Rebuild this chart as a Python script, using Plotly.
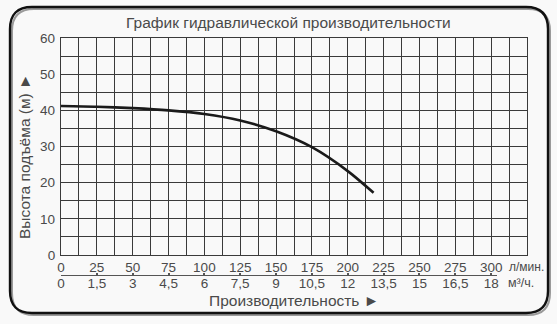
import plotly.graph_objects as go

# Data
flow_lpm = [0, 25, 50, 75, 100, 125, 150, 175, 200, 218]
head_m = [41.2, 41.0, 40.6, 40.0, 39.0, 37.2, 34.2, 29.8, 23.2, 17.2]

x_tick_vals = [0, 25, 50, 75, 100, 125, 150, 175, 200, 225, 250, 275, 300]
x2_tick_vals = [0, 1.5, 3, 4.5, 6, 7.5, 9, 10.5, 12, 13.5, 15, 16.5, 18]
x2_tick_text = ["0", "1,5", "3", "4,5", "6", "7,5", "9", "10,5", "12", "13,5", "15", "16,5", "18"]
y_tick_vals = [0, 10, 20, 30, 40, 50, 60]

W, H = 557, 324
L, R, T, B = 61, 30, 38, 34
PW = W - L - R
PH = H - T - B
def px(x):
    return (x - L) / PW
def py(y):
    return (H - B - y) / PH

FONT = "Liberation Sans, Arial, sans-serif"
TXT = "#4a4a4a"
GRID = "#3a3a3a"
BG = "#f9f9f9"
TF = 13.5

fig = go.Figure()
fig.add_trace(go.Scatter(x=flow_lpm, y=head_m, mode="lines",
                         line=dict(color="#1a1a1a", width=2.6, shape="spline", smoothing=0.8),
                         hoverinfo="skip", showlegend=False))
# invisible trace carrying the second (m3/h) x axis
fig.add_trace(go.Scatter(x=[0], y=[0], xaxis="x2", yaxis="y2", mode="markers",
                         marker=dict(opacity=0), showlegend=False, hoverinfo="skip"))

grid_bottom = 255
line2_y = 275
m3_per_lpm = 0.06
x2_end_px = 497
x2_dom = (x2_end_px - L) / PW

fig.update_layout(
    width=W, height=H,
    margin=dict(l=L, r=R, t=T, b=B),
    paper_bgcolor=BG,
    plot_bgcolor=BG,
    font=dict(family=FONT, size=TF, color=TXT),
    showlegend=False,
    xaxis=dict(range=[0, 325], tickvals=x_tick_vals, ticktext=[str(v) for v in x_tick_vals],
               showgrid=True, gridcolor=GRID, gridwidth=1.3,
               minor=dict(dtick=12.5, tick0=0, showgrid=True, gridcolor=GRID, gridwidth=1.3),
               showline=True, linecolor=GRID, linewidth=1.3, mirror=True,
               ticks="", zeroline=False, anchor="y", tickfont=dict(size=TF, color=TXT)),
    yaxis=dict(range=[0, 60], tickvals=y_tick_vals, domain=[py(grid_bottom), 1],
               showgrid=True, gridcolor=GRID, gridwidth=1.3,
               minor=dict(dtick=5, tick0=0, showgrid=True, gridcolor=GRID, gridwidth=1.3),
               showline=True, linecolor=GRID, linewidth=1.3, mirror=True,
               ticks="outside", ticklen=2, tickcolor="rgba(0,0,0,0)",
               zeroline=False, tickfont=dict(size=TF, color=TXT)),
    xaxis2=dict(domain=[0, x2_dom], range=[0, x2_dom * 325 * m3_per_lpm],
                anchor="y2",
                tickvals=x2_tick_vals, ticktext=x2_tick_text,
                showline=True, linecolor="#555555", linewidth=1.2,
                ticks="inside", ticklen=2, tickcolor="#555555", tickwidth=2,
                ticklabelstandoff=-4,
                showgrid=False, zeroline=False, tickfont=dict(size=TF, color=TXT)),
    yaxis2=dict(domain=[py(line2_y), py(line2_y) + 0.004], anchor="x2", visible=False,
                range=[0, 1], showgrid=False, zeroline=False),
)

anns = [
    dict(text="График гидравлической производительности", x=px(288), y=py(22),
         font=dict(size=15.5, color=TXT)),
    dict(text="Производительность ►", x=px(294), y=py(300), font=dict(size=15.5, color=TXT)),
    dict(text="Высота подъёма (м) ►", x=px(24), y=py(157), textangle=-90,
         font=dict(size=15.5, color=TXT)),
    dict(text="л/мин.", x=px(526), y=py(267), font=dict(size=12, color=TXT)),
    dict(text="м³/ч.", x=px(521), y=py(283), font=dict(size=12.5, color=TXT)),
]
for a in anns:
    fig.add_annotation(xref="paper", yref="paper", showarrow=False,
                       xanchor="center", yanchor="middle", **a)

def rounded_rect(x0, y0, x1, y1, r):
    # pixel coords -> paper path
    rx = r / PW
    ry = r / PH
    X0, X1 = px(x0), px(x1)
    Y0, Y1 = py(y0), py(y1)  # Y0 top (higher), Y1 bottom
    return (f"M {X0+rx},{Y0} L {X1-rx},{Y0} Q {X1},{Y0} {X1},{Y0-ry} "
            f"L {X1},{Y1+ry} Q {X1},{Y1} {X1-rx},{Y1} L {X0+rx},{Y1} "
            f"Q {X0},{Y1} {X0},{Y1+ry} L {X0},{Y0-ry} Q {X0},{Y0} {X0+rx},{Y0} Z")

fig.add_shape(type="path", xref="paper", yref="paper",
              path=rounded_rect(12, 9, 550, 315, 22), line=dict(color="#9a9a9a", width=2))
fig.add_shape(type="path", xref="paper", yref="paper",
              path=rounded_rect(10, 7, 548, 313, 22), line=dict(color="#111111", width=2.4))

fig.write_html("out.html")
